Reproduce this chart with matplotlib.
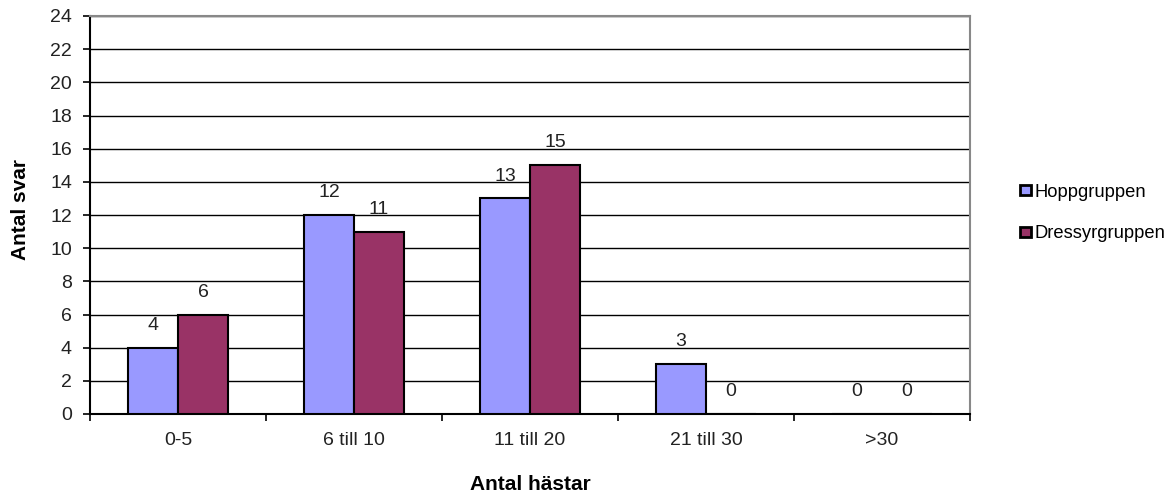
import matplotlib
matplotlib.use("Agg")
import matplotlib.pyplot as plt
import numpy as np
from matplotlib.patches import Patch

plt.rcParams['font.family'] = ['Liberation Sans', 'DejaVu Sans']

categories = ["0-5", "6 till 10", "11 till 20", "21 till 30", ">30"]
hopp = [4, 12, 13, 3, 0]
dressyr = [6, 11, 15, 0, 0]
yticks = list(range(0, 25, 2))

fig = plt.figure(figsize=(11.7, 4.97), dpi=100)
ax = fig.add_axes([90/1170, 1 - 414/497, 880/1170, 398/497])

x = np.arange(len(categories))
w = 0.285
blue = "#9999FF"
purple = "#993366"
fs = 14

ax.bar(x - w/2, hopp, w, color=blue, edgecolor="black", linewidth=1.5, zorder=3)
ax.bar(x + w/2, dressyr, w, color=purple, edgecolor="black", linewidth=1.5, zorder=3)

for xs, vals in ((x - w/2, hopp), (x + w/2, dressyr)):
    for xi, v in zip(xs, vals):
        ax.annotate(str(v), (xi, v), xytext=(0, 10), textcoords="offset points",
                    ha="center", va="bottom", fontsize=fs, color="#222222", zorder=4)

ax.set_xlim(-0.5, len(categories) - 0.5)
ax.set_ylim(0, 24)
ax.set_yticks(yticks)
ax.set_yticklabels([str(t) for t in yticks], fontsize=fs, color="#222222")
ax.yaxis.grid(True, color="black", linewidth=1.0, zorder=0)
ax.set_axisbelow(True)

# category labels centred, tick marks at boundaries
ax.set_xticks(x)
ax.set_xticklabels(categories, fontsize=fs, color="#222222")
ax.tick_params(axis="x", length=0, pad=13)
ax.set_xticks(np.arange(-0.5, len(categories)), minor=True)
ax.tick_params(axis="x", which="minor", length=5, width=1.2, color="black", direction="out")
ax.tick_params(axis="y", length=5, width=1.2, direction="out", pad=8)

for side in ["top", "right"]:
    ax.spines[side].set_color("#888888")
    ax.spines[side].set_linewidth(1.5)
for side in ["left", "bottom"]:
    ax.spines[side].set_color("black")
    ax.spines[side].set_linewidth(1.5)

fig.text(20/1170, 1 - 210/497, "Antal svar", fontsize=15, fontweight="bold",
         rotation=90, ha="center", va="center")
fig.text(530/1170, 1 - 485/497, "Antal hästar", fontsize=15, fontweight="bold",
         ha="center", va="center")

handles = [Patch(facecolor=blue, edgecolor="black", linewidth=2, label="Hoppgruppen"),
           Patch(facecolor=purple, edgecolor="black", linewidth=2, label="Dressyrgruppen")]
fig.legend(handles=handles, loc="center left", bbox_to_anchor=(1003/1170, 1 - 213/497),
           frameon=False, fontsize=13.2, handlelength=0.6, handleheight=0.5,
           handletextpad=0.2, labelspacing=1.35)

fig.savefig("out.png", dpi=100)
